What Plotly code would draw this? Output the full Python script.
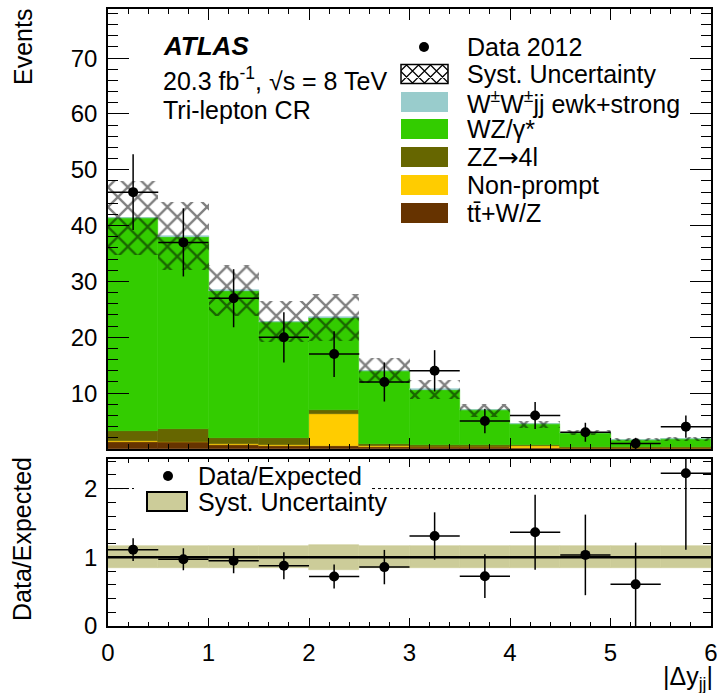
import plotly.graph_objects as go

W, H = 717, 693

# ---------------- data ----------------
bin_centers = [0.25, 0.75, 1.25, 1.75, 2.25, 2.75, 3.25, 3.75, 4.25, 4.75, 5.25, 5.75]
bin_half = [0.25] * 12
data_2012 = [46, 37, 27, 20, 17, 12, 14, 5, 6, 3, 1, 4]
data_err = [6.8, 6.1, 5.2, 4.5, 4.1, 3.5, 3.7, 2.2, 2.4, 1.7, 1.0, 2.0]

ttv = [1.2, 1.2, 0.8, 0.6, 0.6, 0.4, 0.3, 0.3, 0.2, 0.1, 0.1, 0.1]
nonprompt = [0.3, 0.1, 0.1, 0.2, 5.6, 0.1, 0.0, 0.0, 0.3, 0.0, 0.0, 0.0]
zz = [1.7, 2.2, 1.1, 1.1, 0.8, 0.4, 0.5, 0.4, 0.2, 0.3, 0.2, 0.2]
wz = [38.1, 34.5, 26.3, 20.8, 16.5, 13.0, 9.8, 6.2, 3.7, 2.5, 1.35, 1.5]
wpmwpm = [0.1, 0.1, 0.1, 0.1, 0.1, 0.1, 0.1, 0.0, 0.0, 0.0, 0.0, 0.0]
syst_rel = [0.16, 0.16, 0.16, 0.16, 0.18, 0.16, 0.16, 0.16, 0.16, 0.16, 0.16, 0.16]

x_ticks = [0, 1, 2, 3, 4, 5, 6]
y_ticks = [10, 20, 30, 40, 50, 60, 70]
r_ticks = [0, 1, 2]

ARROW = '<span style="font-family:DejaVu Sans">→</span>'
legend_labels = ["Data 2012", "Syst. Uncertainty",
                 "W<sup>±</sup>W<sup>±</sup>jj ewk+strong", "WZ/γ*",
                 "ZZ" + ARROW + "4l", "Non-prompt", "tt\u0304+W/Z"]
ratio_labels = ["Data/Expected", "Syst. Uncertainty"]

# ---------------- styles ----------------
C_WW = "#99cccc"
C_WZ = "#33cc00"
C_ZZ = "#666600"
C_NP = "#ffcc00"
C_TTV = "#663300"
C_BAND = "#cccc99"
FONT = "Liberation Sans, Arial, sans-serif"

def fx(p):
    return p / W

def fy(p):
    return 1 - p / H

components = [(ttv, C_TTV), (nonprompt, C_NP), (zz, C_ZZ), (wz, C_WZ), (wpmwpm, C_WW)]

fig = go.Figure()
base = [0.0] * 12
for vals, col in components:
    fig.add_trace(go.Bar(x=bin_centers, y=vals, base=list(base), width=0.5,
                         marker=dict(color=col, line=dict(width=0.6, color=col)),
                         xaxis="x", yaxis="y", showlegend=False))
    base = [b + v for b, v in zip(base, vals)]
total = base

syst_lo = [t * (1 - r) for t, r in zip(total, syst_rel)]
syst_h = [2 * t * r for t, r in zip(total, syst_rel)]
fig.add_trace(go.Bar(x=bin_centers, y=syst_h, base=syst_lo, width=0.5,
                     marker=dict(color="rgba(0,0,0,0)", line=dict(width=0),
                                 pattern=dict(shape="x", fgcolor="black", bgcolor="rgba(0,0,0,0)",
                                              size=14, solidity=0.3, fillmode="overlay")),
                     xaxis="x", yaxis="y", showlegend=False))

fig.add_trace(go.Scatter(x=bin_centers, y=data_2012, mode="markers",
                         marker=dict(color="black", size=10),
                         error_y=dict(type="data", array=data_err, color="black", thickness=1.5, width=0),
                         error_x=dict(type="data", array=bin_half, color="black", thickness=1.5, width=0),
                         xaxis="x", yaxis="y", showlegend=False))

# ratio panel
band_lo = [1 - r for r in syst_rel]
band_h = [2 * r for r in syst_rel]
fig.add_trace(go.Bar(x=bin_centers, y=band_h, base=band_lo, width=0.5,
                     marker=dict(color=C_BAND, line=dict(width=0.6, color=C_BAND)),
                     xaxis="x2", yaxis="y2", showlegend=False))
ratio = [d / t for d, t in zip(data_2012, total)]
ratio_err = [e / t for e, t in zip(data_err, total)]
fig.add_trace(go.Scatter(x=bin_centers, y=ratio, mode="markers",
                         marker=dict(color="black", size=10),
                         error_y=dict(type="data", array=ratio_err, color="black", thickness=1.5, width=0),
                         error_x=dict(type="data", array=bin_half, color="black", thickness=1.5, width=0),
                         xaxis="x2", yaxis="y2", showlegend=False))

axis_common = dict(showline=True, linecolor="black", linewidth=1.5, mirror="allticks",
                   ticks="inside", tickcolor="black", tickwidth=1.2, showgrid=False,
                   zeroline=False, tickfont=dict(family=FONT, size=24, color="black"),
                   automargin=False, ticklabeloverflow="allow")

fig.update_layout(
    width=W, height=H, margin=dict(l=0, r=0, t=0, b=0),
    paper_bgcolor="white", plot_bgcolor="white",
    barmode="overlay", bargap=0, showlegend=False,
    font=dict(family=FONT, size=24, color="black"),
    xaxis=dict(domain=[fx(108), fx(711)], range=[0, 6], anchor="y",
               tickvals=x_ticks, showticklabels=False, ticklen=11,
               minor=dict(dtick=0.2, ticklen=5, ticks="inside", tickcolor="black"),
               **axis_common),
    yaxis=dict(domain=[fy(449), fy(9)], range=[0, 78.8], anchor="x",
               tickvals=y_ticks, ticklen=21, ticklabelstandoff=4,
               minor=dict(dtick=2, ticklen=10, ticks="inside", tickcolor="black"),
               **axis_common),
    xaxis2=dict(domain=[fx(108), fx(711)], range=[0, 6], anchor="y2",
                tickvals=x_ticks, ticklen=8, ticklabelstandoff=4,
                minor=dict(dtick=0.2, ticklen=4, ticks="inside", tickcolor="black"),
                **axis_common),
    yaxis2=dict(domain=[fy(626), fy(459)], range=[0, 2.43], anchor="x2",
                tickvals=r_ticks, ticklen=20, ticklabelstandoff=4,
                minor=dict(dtick=0.2, ticklen=8, ticks="inside", tickcolor="black"),
                **axis_common),
)

shapes = []
# reference lines in ratio panel
shapes.append(dict(type="line", xref="x2", yref="y2", x0=0, x1=6, y0=2, y1=2,
                   line=dict(color="black", width=1, dash="dot"), layer="above"))
shapes.append(dict(type="line", xref="x2", yref="y2", x0=0, x1=6, y0=1, y1=1,
                   line=dict(color="black", width=2.5), layer="above"))
# ratio legend background
shapes.append(dict(type="rect", xref="paper", yref="paper", x0=fx(134), x1=fx(372),
                   y0=fy(516), y1=fy(462), line=dict(width=0), fillcolor="white", layer="above"))

annotations = []

def legend_text(x, y, text, size=25):
    annotations.append(dict(xref="paper", yref="paper", x=fx(x), y=fy(y), text=text,
                            showarrow=False, xanchor="left", yanchor="middle",
                            font=dict(family=FONT, size=size, color="black")))

# top legend
row_y = [47, 74, 102, 129, 157, 185, 213]
box_x0, box_x1 = 401, 448
shapes.append(dict(type="circle", xref="paper", yref="paper", x0=fx(419), x1=fx(429),
                   y0=fy(row_y[0] + 5), y1=fy(row_y[0] - 5), fillcolor="black",
                   line=dict(color="black", width=0), layer="above"))
# hatched box
hx0, hx1, hy0, hy1 = box_x0, box_x1, row_y[1] - 9.5, row_y[1] + 9.5
step = 12
path = ""
k = hx0 - hy1
while k <= hx1 - hy0:
    xa, xb = max(hx0, hy0 + k), min(hx1, hy1 + k)
    if xb > xa:
        path += f"M{fx(xa)},{fy(xa - k)} L{fx(xb)},{fy(xb - k)} "
    k += step
k = hx0 + hy0 + step / 2
while k <= hx1 + hy1:
    xa, xb = max(hx0, k - hy1), min(hx1, k - hy0)
    if xb > xa:
        path += f"M{fx(xa)},{fy(k - xa)} L{fx(xb)},{fy(k - xb)} "
    k += step
shapes.append(dict(type="path", xref="paper", yref="paper", path=path,
                   line=dict(color="black", width=1.2), layer="above"))
shapes.append(dict(type="rect", xref="paper", yref="paper", x0=fx(hx0), x1=fx(hx1),
                   y0=fy(hy1), y1=fy(hy0), line=dict(color="black", width=1.5), layer="above"))
for yy, col in zip(row_y[2:], [C_WW, C_WZ, C_ZZ, C_NP, C_TTV]):
    shapes.append(dict(type="rect", xref="paper", yref="paper", x0=fx(box_x0), x1=fx(box_x1),
                       y0=fy(yy + 10), y1=fy(yy - 10), fillcolor=col,
                       line=dict(width=0), layer="above"))
for yy, lab in zip(row_y, legend_labels):
    legend_text(465, yy, lab)

# ratio legend
shapes.append(dict(type="circle", xref="paper", yref="paper", x0=fx(163), x1=fx(173),
                   y0=fy(481), y1=fy(471), fillcolor="black", line=dict(width=0), layer="above"))
shapes.append(dict(type="rect", xref="paper", yref="paper", x0=fx(147), x1=fx(187),
                   y0=fy(511), y1=fy(492), fillcolor=C_BAND,
                   line=dict(color="black", width=2), layer="above"))
legend_text(196, 476, ratio_labels[0])
legend_text(196, 502, ratio_labels[1])

# ATLAS label
annotations.append(dict(xref="paper", yref="paper", x=fx(161), y=fy(46),
                        text="<b><i>ATLAS</i></b>", showarrow=False, xanchor="left",
                        yanchor="middle", font=dict(family=FONT, size=26, color="black")))
legend_text(161, 79, "20.3 fb<sup>-1</sup>, √s = 8 TeV")
legend_text(161, 110, "Tri-lepton CR")

# axis titles
annotations.append(dict(xref="paper", yref="paper", x=fx(23), y=fy(47), text="Events",
                        textangle=-90, showarrow=False, xanchor="center", yanchor="middle",
                        font=dict(family=FONT, size=25, color="black")))
annotations.append(dict(xref="paper", yref="paper", x=fx(22), y=fy(539), text="Data/Expected",
                        textangle=-90, showarrow=False, xanchor="center", yanchor="middle",
                        font=dict(family=FONT, size=25, color="black")))
annotations.append(dict(xref="paper", yref="paper", x=fx(715), y=fy(678),
                        text="|Δy<sub>jj</sub>|", showarrow=False, xanchor="right",
                        yanchor="middle", font=dict(family=FONT, size=25, color="black")))

fig.update_layout(shapes=shapes, annotations=annotations)
fig.write_html("out.html")
